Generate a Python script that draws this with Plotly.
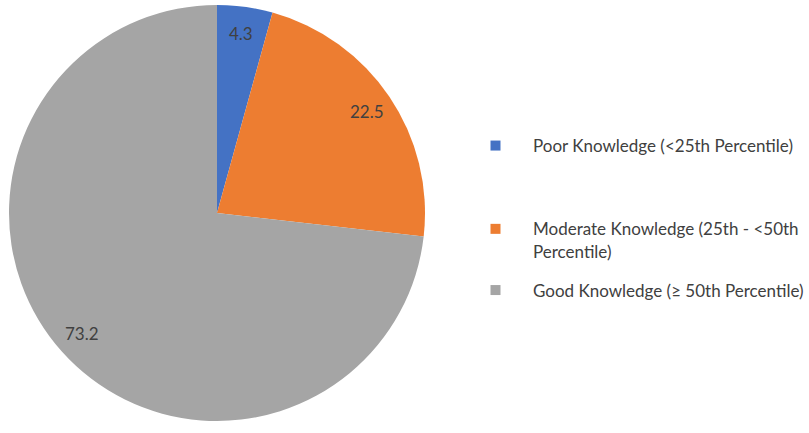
import math
import plotly.graph_objects as go

categories = ["Poor Knowledge (<25th Percentile)",
              "Moderate Knowledge (25th - <50th<br>Percentile)",
              "Good Knowledge (≥ 50th Percentile)"]
values = [4.3, 22.5, 73.2]
value_labels = ["4.3", "22.5", "73.2"]
colors = ["#4472C4", "#ED7D31", "#A5A5A5"]
legend_extra_lines = [2, 0, 0]

W, H = 809, 433
cx_px, cy_px, R_px = 217, 213, 208
dom_x = [(cx_px - R_px) / W, (cx_px + R_px) / W]
dom_y = [1 - (cy_px + R_px) / H, 1 - (cy_px - R_px) / H]

fig = go.Figure()
fig.add_trace(go.Pie(
    labels=categories, values=values, sort=False, direction="clockwise",
    rotation=0, marker=dict(colors=colors, line=dict(width=0)),
    textinfo="none", hoverinfo="label+value", showlegend=False,
    domain=dict(x=dom_x, y=dom_y)))

# legend entries
for i, (c, col) in enumerate(zip(categories, colors)):
    name = c + "<br> " * legend_extra_lines[i]
    fig.add_trace(go.Scatter(x=[None], y=[None], mode="markers", name=name,
                             legendgroup=f"g{i}",
                             marker=dict(symbol="square", size=10, color=col)))

# data labels placed along slice bisectors near the outer edge
total = sum(values)
cum = 0
cx, cy = cx_px / W, 1 - cy_px / H
for v, t in zip(values, value_labels):
    theta = 2 * math.pi * (cum + v / 2) / total
    cum += v
    r = 0.87 * R_px
    fig.add_annotation(x=cx + r * math.sin(theta) / W, y=cy + r * math.cos(theta) / H,
                       xref="paper", yref="paper", text=t, showarrow=False,
                       xanchor="center", yanchor="middle",
                       font=dict(family="Lato", size=17, color="#404040"))

fig.update_layout(
    width=W, height=H, margin=dict(l=0, r=0, t=0, b=0, autoexpand=False),
    paper_bgcolor="white", plot_bgcolor="white",
    xaxis=dict(visible=False), yaxis=dict(visible=False),
    font=dict(family="Lato", size=17, color="#404040"),
    legend=dict(x=458 / W, y=1 - 128 / H, xanchor="left", yanchor="top",
                tracegroupgap=14, valign="top", bgcolor="rgba(0,0,0,0)",
                borderwidth=0, itemwidth=65,
                font=dict(family="Lato", size=17, color="#404040")),
)
fig.write_html("out.html", config={"displayModeBar": False},
               post_script="document.body.style.margin='0px';")
